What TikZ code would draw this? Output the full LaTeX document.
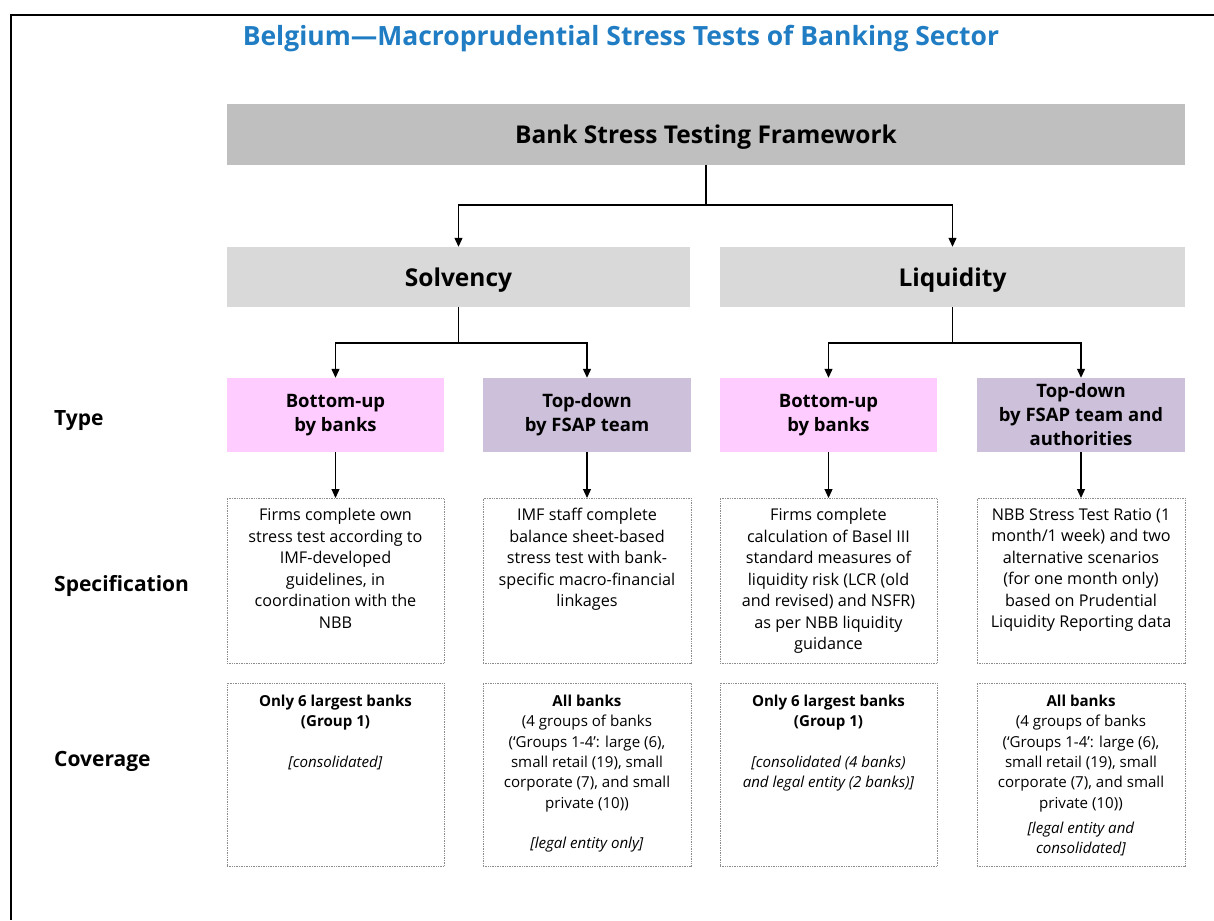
\documentclass[tikz,border=0pt]{standalone}
\usepackage{fontspec}
\setmainfont{Open Sans}
\usetikzlibrary{arrows.meta,positioning}

\definecolor{titleblue}{RGB}{32,125,195}
\definecolor{framegray}{RGB}{191,191,191}
\definecolor{pillargray}{RGB}{217,217,217}
\definecolor{bupink}{RGB}{255,204,255}
\definecolor{tdpurple}{RGB}{204,192,218}

\tikzset{
  arr/.style={-{Triangle[length=9pt,width=8pt]}, line width=1.2pt},
  topbox/.style={fill=framegray, minimum width=958pt, minimum height=61pt, text depth=0pt, font=\fontsize{24.5}{28}\selectfont\bfseries},
  pillar/.style={fill=pillargray, minimum height=60pt, text depth=0pt, font=\fontsize{24.5}{28}\selectfont\bfseries},
  typebox/.style={minimum height=74pt, align=center, font=\fontsize{18.5}{24}\selectfont\bfseries},
  bu/.style={typebox, fill=bupink, minimum width=217pt},
  td/.style={typebox, fill=tdpurple, minimum width=208pt},
  dotbox/.style={draw=black!45, densely dotted, line width=0.7pt, anchor=north},
  cell/.style={anchor=north, align=center, inner sep=0pt, font=\fontsize{16.2}{21.5}\selectfont},
  covcell/.style={cell, font=\fontsize{15.1}{20.3}\selectfont},
  rowlabel/.style={anchor=west, inner sep=0pt, font=\fontsize{21}{24}\selectfont\bfseries},
}

\begin{document}
\begin{tikzpicture}[x=1pt, y=-1pt]
\useasboundingbox (0,0) rectangle (1214,920);

% outer rule and heading
\draw[line width=1.7pt] (1214,15) -- (11,15) -- (11,920);
\node[font=\fontsize{26.5}{30}\selectfont\bfseries, text=titleblue] (title) at (621,39)
  {Belgium---Macroprudential Stress Tests of Banking Sector};

% framework and the two pillars
\node[topbox] (frame) at (706,134.5) {Bank Stress Testing Framework};
\node[pillar, minimum width=463pt] (solv) at (458.5,277) {Solvency};
\node[pillar, minimum width=465pt] (liq) at (952.5,277) {Liquidity};

\coordinate (fork) at (706,205);
\draw[line width=1.2pt] (frame.south) -- (fork);
\draw[arr] (fork) -| (solv.north);
\draw[arr] (fork) -| (liq.north);

% type row
\node[bu] (sbu) at (335.5,415) {Bottom-up\\by banks};
\node[td] (std) at (587,415) {Top-down\\by FSAP team};
\node[bu] (lbu) at (828.5,415) {Bottom-up\\by banks};
\node[td] (ltd) at (1081,415) {Top-down\\by FSAP team and\\authorities};

\coordinate (sfork) at (458.5,343);
\coordinate (lfork) at (952.5,343);
\draw[line width=1.2pt] (solv.south) -- (sfork);
\draw[arr] (sfork) -| (sbu.north);
\draw[arr] (sfork) -| (std.north);
\draw[line width=1.2pt] (liq.south) -- (lfork);
\draw[arr] (lfork) -| (lbu.north);
\draw[arr] (lfork) -| (ltd.north);

% specification row
\node[dotbox, minimum width=217pt, minimum height=165pt] (sbuspec) at (335.5,498) {};
\node[dotbox, minimum width=208pt, minimum height=165pt] (stdspec) at (587,498) {};
\node[dotbox, minimum width=217pt, minimum height=165pt] (lbuspec) at (828.5,498) {};
\node[dotbox, minimum width=208pt, minimum height=165pt] (ltdspec) at (1081,498) {};

\foreach \t in {sbu,std,lbu,ltd}
  \draw[arr] (\t.south) -- (\t spec.north);

\node[cell, below=10pt of sbuspec.north] (sbutext)
  {Firms complete own\\stress test according to\\IMF-developed\\guidelines, in\\coordination with the\\NBB};
\node[cell, below=10pt of stdspec.north] (stdtext)
  {IMF staff complete\\balance sheet-based\\stress test with bank-\\specific macro-financial\\linkages};
\node[cell, below=10pt of lbuspec.north] (lbutext)
  {Firms complete\\calculation of Basel III\\standard measures of\\liquidity risk (LCR (old\\and revised) and NSFR)\\as per NBB liquidity\\guidance};
\node[cell, below=10pt of ltdspec.north] (ltdtext)
  {NBB Stress Test Ratio (1\\month/1 week) and two\\alternative scenarios\\(for one month only)\\based on Prudential\\Liquidity Reporting data};

% coverage row
\node[dotbox, minimum width=217pt, minimum height=183pt] (sbucov) at (335.5,683) {};
\node[dotbox, minimum width=208pt, minimum height=183pt] (stdcov) at (587,683) {};
\node[dotbox, minimum width=217pt, minimum height=183pt] (lbucov) at (828.5,683) {};
\node[dotbox, minimum width=208pt, minimum height=183pt] (ltdcov) at (1081,683) {};

\node[covcell, below=12pt of sbucov.north] (sbucovtext)
  {\textbf{Only 6 largest banks}\\\textbf{(Group 1)}\\[20pt]\textit{[consolidated]}};
\node[covcell, below=12pt of stdcov.north] (stdcovtext)
  {\textbf{All banks}\\(4 groups of banks\\(`Groups 1-4': large (6),\\small retail (19), small\\corporate (7), and small\\private (10))\\[20pt]\textit{[legal entity only]}};
\node[covcell, below=12pt of lbucov.north] (lbucovtext)
  {\textbf{Only 6 largest banks}\\\textbf{(Group 1)}\\[20pt]\textit{[consolidated (4 banks)}\\\textit{and legal entity (2 banks)]}};
\node[covcell, below=12pt of ltdcov.north] (ltdcovtext)
  {\textbf{All banks}\\(4 groups of banks\\(`Groups 1-4': large (6),\\small retail (19), small\\corporate (7), and small\\private (10))\\[5pt]\textit{[legal entity and}\\\textit{consolidated]}};

% row labels
\node[rowlabel] (typelbl) at (54,421) {Type};
\node[rowlabel] (speclbl) at (54,586) {Specification};
\node[rowlabel] (covlbl) at (54,761) {Coverage};

\end{tikzpicture}
\end{document}
